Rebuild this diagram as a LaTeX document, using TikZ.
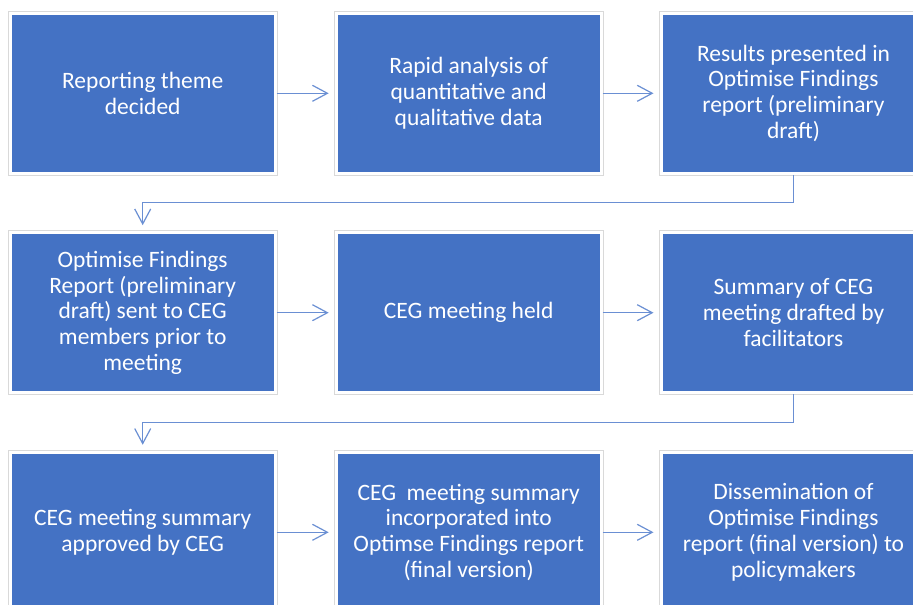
\documentclass[tikz,border=0pt]{standalone}
\usepackage{fontspec}
\setmainfont{Carlito}
\usetikzlibrary{arrows.meta}
\definecolor{boxblue}{HTML}{4472C4}
\definecolor{linkblue}{HTML}{6A8FD3}
\definecolor{framegray}{HTML}{D9D9D9}
\tikzset{
  stepbox/.style={rectangle, fill=boxblue, draw=white, line width=3pt,
    preaction={draw=framegray, line width=5pt},
    minimum width=265pt, minimum height=160pt, inner sep=0pt, outer sep=0pt,
    text=white, align=center,
    font=\fontsize{23.5}{25.8}\selectfont},
  link/.style={draw=linkblue, line width=1.2pt,
    -{Straight Barb[length=15pt,width=16pt,line width=1.2pt]},
    shorten >=7.5pt, shorten <=1.5pt}
}
\begin{document}
\begin{tikzpicture}[x=1pt,y=-1pt]
\useasboundingbox (0,0) rectangle (913,605);
\clip (0,0) rectangle (913,605);
\node[stepbox] (a) at (142.7,93.3) {Reporting theme\\decided};
\node[stepbox] (b) at (468.7,93.3) {Rapid analysis of\\quantitative and\\qualitative data};
\node[stepbox] (c) at (793.5,93.3) {Results presented in\\Optimise Findings\\report (preliminary\\draft)};
\node[stepbox] (d) at (142.7,312.7) {Optimise Findings\\Report (preliminary\\draft) sent to CEG\\members prior to\\meeting};
\node[stepbox] (e) at (468.7,312.7) {CEG meeting held};
\node[stepbox] (f) at (793.5,312.7) {Summary of CEG\\meeting drafted by\\facilitators};
\node[stepbox] (g) at (142.7,532.3) {CEG meeting summary\\approved by CEG};
\node[stepbox] (h) at (468.7,532.3) {CEG\ \ meeting summary\\incorporated into\\Optimse Findings report\\(final version)};
\node[stepbox] (i) at (793.5,532.3) {Dissemination of\\Optimise Findings\\report (final version) to\\policymakers};
\draw[link] (a) -- (b);
\draw[link] (b) -- (c);
\draw[link] (d) -- (e);
\draw[link] (e) -- (f);
\draw[link] (g) -- (h);
\draw[link] (h) -- (i);
\draw[link] (c.south) -- ++(0,29) -| (d.north);
\draw[link] (f.south) -- ++(0,29.5) -| (g.north);
\end{tikzpicture}
\end{document}
